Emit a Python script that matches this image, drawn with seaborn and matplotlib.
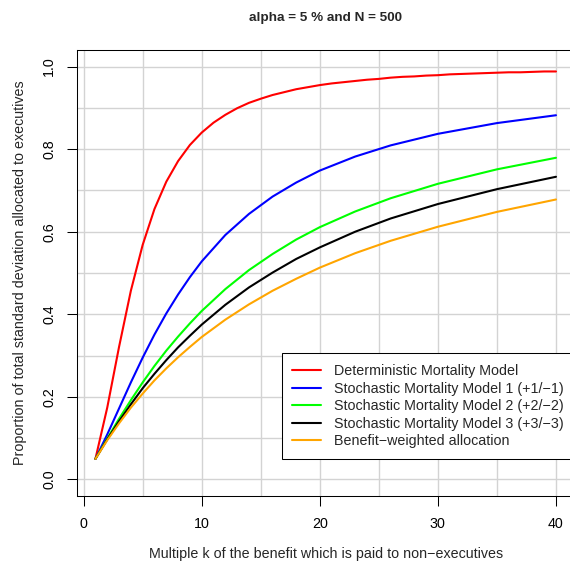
import matplotlib
matplotlib.use("Agg")
import matplotlib.pyplot as plt
import numpy as np
import pandas as pd
import seaborn as sns

# values
k_full = list(range(1, 41))
deterministic = [
    0.050, 0.174, 0.321, 0.457, 0.568, 0.655, 0.721, 0.771, 0.810, 0.840,
    0.864, 0.883, 0.899, 0.912, 0.922, 0.931, 0.938, 0.945, 0.950, 0.955,
    0.959, 0.962, 0.965, 0.968, 0.970, 0.973, 0.975, 0.976, 0.978, 0.979,
    0.981, 0.982, 0.983, 0.984, 0.985, 0.986, 0.986, 0.987, 0.988, 0.988,
]

k_sparse = [1, 2, 3, 4, 5, 6, 7, 8, 9, 10, 12, 14, 16, 18, 20, 23, 26, 30, 35, 40]
stochastic_1 = [
    0.050, 0.109, 0.172, 0.235, 0.295, 0.351, 0.402, 0.448, 0.490, 0.528,
    0.592, 0.643, 0.685, 0.719, 0.748, 0.782, 0.809, 0.837, 0.863, 0.882,
]
stochastic_2 = [
    0.050, 0.099, 0.147, 0.192, 0.235, 0.275, 0.312, 0.346, 0.378, 0.408,
    0.461, 0.507, 0.546, 0.581, 0.611, 0.649, 0.681, 0.716, 0.751, 0.779,
]
stochastic_3 = [
    0.050, 0.097, 0.141, 0.182, 0.221, 0.256, 0.289, 0.320, 0.348, 0.375,
    0.423, 0.465, 0.501, 0.534, 0.562, 0.600, 0.632, 0.667, 0.703, 0.733,
]
benefit_weighted = [
    0.050, 0.095, 0.136, 0.174, 0.208, 0.240, 0.269, 0.296, 0.321, 0.345,
    0.387, 0.424, 0.457, 0.486, 0.513, 0.548, 0.578, 0.612, 0.648, 0.678,
]

labels = [
    "Deterministic Mortality Model",
    "Stochastic Mortality Model 1 (+1/\u22121)",
    "Stochastic Mortality Model 2 (+2/\u22122)",
    "Stochastic Mortality Model 3 (+3/\u22123)",
    "Benefit\u2212weighted allocation",
]
colors = ["#FF0000", "#0000FF", "#00FF00", "#000000", "#FFA500"]

series = [
    (k_full, deterministic),
    (k_sparse, stochastic_1),
    (k_sparse, stochastic_2),
    (k_sparse, stochastic_3),
    (k_sparse, benefit_weighted),
]
df = pd.concat(
    [pd.DataFrame({"k": ks, "share": ys, "model": lab}) for (ks, ys), lab in zip(series, labels)],
    ignore_index=True,
)

sns.set_style("ticks")
plt.rcParams["font.family"] = ["Liberation Sans", "DejaVu Sans"]
fs = 10.3

fig = plt.figure(figsize=(5.7, 5.7), dpi=100)
ax = fig.add_axes([0.1351, 0.1298, 0.8726, 0.7825])

sns.lineplot(
    data=df, x="k", y="share", hue="model", hue_order=labels,
    palette=dict(zip(labels, colors)), linewidth=1.5, ax=ax, sort=False,
)

ax.set_xlim(-0.56, 41.56)
ax.set_ylim(-0.04, 1.04)
ax.set_xticks([0, 10, 20, 30, 40])
ax.set_yticks([0.0, 0.2, 0.4, 0.6, 0.8, 1.0])
ax.set_yticklabels(["0.0", "0.2", "0.4", "0.6", "0.8", "1.0"])
ax.set_xticks(np.arange(0, 41, 5), minor=True)
ax.set_yticks(np.arange(0, 1.01, 0.1), minor=True)
ax.grid(True, which="both", color="#D3D3D3", linewidth=1.0)
ax.set_axisbelow(True)

ax.tick_params(axis="both", which="major", direction="out", length=7, width=0.75,
               color="black", labelsize=fs, labelcolor="black")
ax.tick_params(axis="x", which="major", pad=8)
ax.tick_params(axis="y", which="major", pad=8, labelrotation=90)
ax.tick_params(axis="both", which="minor", length=0)
for lab in ax.get_yticklabels():
    lab.set_va("center")

for side in ["left", "right", "top", "bottom"]:
    ax.spines[side].set_visible(True)
    ax.spines[side].set_color("black")
    ax.spines[side].set_linewidth(0.75)

ax.set_xlabel("Multiple k of the benefit which is paid to non\u2212executives", fontsize=fs)
ax.set_ylabel("Proportion of total standard deviation allocated to executives", fontsize=fs)
ax.xaxis.set_label_coords(0.5, -0.115)
ax.yaxis.set_label_coords(-0.1, 0.5)
ax.set_title("alpha = 5 % and N = 500", fontsize=9.7, fontweight="bold", pad=21)

handles, labs = ax.get_legend_handles_labels()
leg = ax.legend(
    handles, labs, loc="lower right", bbox_to_anchor=(1.0, 0.083), fontsize=fs,
    frameon=True, fancybox=False, framealpha=1, edgecolor="black",
    handlelength=2.0, handletextpad=0.9, labelspacing=0.25, borderpad=0.75,
    borderaxespad=0,
)
leg.get_frame().set_linewidth(0.75)

fig.savefig("out.png", dpi=100)
